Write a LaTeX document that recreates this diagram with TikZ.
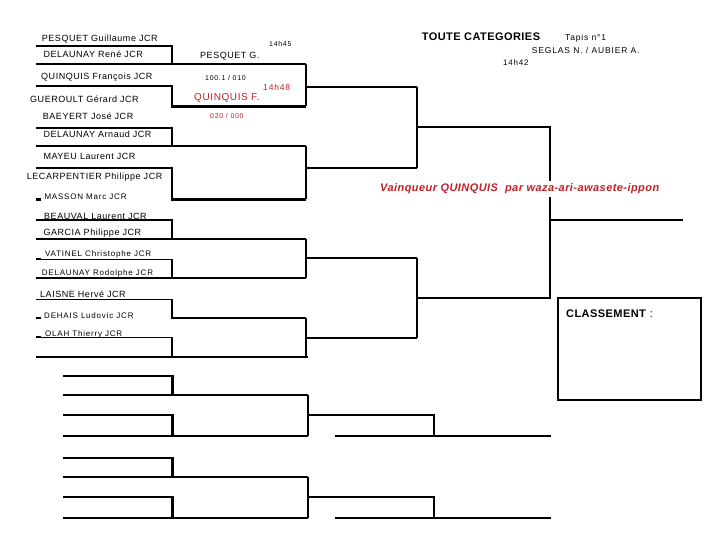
\documentclass[tikz,border=0pt]{standalone}
\usepackage{fontspec}
\setmainfont{Liberation Sans}
\newfontfamily\nmfont[LetterSpace=6]{Liberation Sans}
\newfontfamily\smfont[LetterSpace=10]{Liberation Sans}
\newfontfamily\bdfont[LetterSpace=4]{Liberation Sans}
\definecolor{redtxt}{RGB}{192,32,40}
\begin{document}
\begin{tikzpicture}[x=1pt,y=-1pt,
  thick line/.style={line width=2.8pt,line join=miter,line cap=butt},
  thin line/.style={line width=1pt},
  box line/.style={line width=1.2pt},
  nmtext/.style={anchor=base west,inner sep=0,font=\nmfont\fontsize{9}{10}\selectfont},
  smtext/.style={anchor=base west,inner sep=0,font=\smfont\fontsize{8}{9}\selectfont},
  infotext/.style={anchor=base west,inner sep=0,font=\smfont\fontsize{7}{8}\selectfont},
  rinfotext/.style={infotext,text=redtxt},
  restext/.style={anchor=base west,inner sep=0,font=\nmfont\fontsize{9}{10}\selectfont},
  rrestext/.style={restext,text=redtxt,font=\nmfont\fontsize{10}{11}\selectfont}]
\useasboundingbox (0,0) rectangle (720,540);
% ---------- names ----------
\node[nmtext] (n1) at (41.7,41.7) {PESQUET Guillaume JCR};
\node[nmtext] (n2) at (43.3,57.7) {DELAUNAY René JCR};
\node[nmtext] (n3) at (41,80) {QUINQUIS François JCR};
\node[nmtext] (n4) at (30,102.7) {GUEROULT Gérard JCR};
\node[nmtext] (n5) at (42.7,119.3) {BAEYERT José JCR};
\node[nmtext] (n6) at (43.3,137.3) {DELAUNAY Arnaud JCR};
\node[nmtext] (n7) at (43.3,159.3) {MAYEU Laurent JCR};
\node[nmtext] (n8) at (26.7,180) {LECARPENTIER Philippe JCR};
\node[smtext] (n9) at (44.3,199.3) {MASSON Marc JCR};
\node[nmtext] (n10) at (44,219.3) {BEAUVAL Laurent JCR};
\node[nmtext] (n11) at (43.3,236) {GARCIA Philippe JCR};
\node[smtext] (n12) at (45,256) {VATINEL Christophe JCR};
\node[smtext] (n13) at (41.7,275.7) {DELAUNAY Rodolphe JCR};
\node[nmtext] (n14) at (40,297.7) {LAISNE Hervé JCR};
\node[smtext] (n15) at (44,318.3) {DEHAIS Ludovic JCR};
\node[smtext] (n16) at (45,336.7) {OLAH Thierry JCR};
% ---------- results ----------
\node[infotext] (t1) at (269,46.7) {14h45};
\node[restext] (w1) at (200,58.3) {PESQUET G.};
\node[infotext] (s1) at (205,80.7) {100.1 / 010};
\node[rrestext] (w2) at (194,101) {QUINQUIS F.};
\node[rinfotext,font=\smfont\fontsize{8.5}{9}\selectfont] (t2) at (263,90.3) {14h48};
\node[rinfotext] (s2) at (210,118.3) {020 / 000};
% ---------- header ----------
\node[anchor=base west,inner sep=0,font=\bdfont\bfseries\fontsize{11}{12}\selectfont] (title) at (421.7,40.7) {TOUTE CATEGORIES};
\node[infotext,font=\smfont\fontsize{8.5}{9}\selectfont] (tapis) at (565,40.7) {Tapis n°1};
\node[infotext,font=\smfont\fontsize{8.5}{9}\selectfont] (arb) at (531.7,54) {SEGLAS N. / AUBIER A.};
\node[infotext,font=\smfont\fontsize{8}{9}\selectfont] (t3) at (503,65.7) {14h42};
% ---------- classement ----------
\draw[box line] (558,298) rectangle (701,400);
\node[anchor=base west,inner sep=0,font=\bdfont\fontsize{11}{12}\selectfont] (cl) at (566,317) {\textbf{CLASSEMENT} :};
% ---------- main bracket ----------
% quarter 1
\draw[thick line] (36,46) -- (172,46) -- (172,64);
\draw[thick line] (36,64) -- (306,64);
\draw[thick line] (36,86) -- (172,86) -- (172,106.5) -- (306,106.5);
\draw[thick line] (306,64) -- (306,106.5);
\draw[thick line] (306,87) -- (417,87);
% quarter 2
\draw[thick line] (36,128) -- (172,128) -- (172,146);
\draw[thick line] (36,146) -- (306,146);
\draw[thick line] (36,168) -- (172,168) -- (172,199.5) -- (306,199.5);
\draw[thick line] (36,199.5) -- (41,199.5);
\draw[thick line] (306,146) -- (306,199.5);
\draw[thick line] (306,168) -- (417,168);
% quarter 3
\draw[thick line] (36,220) -- (172,220) -- (172,239);
\draw[thick line] (36,239) -- (306,239);
\draw[thick line] (36,259) -- (41,259);
\draw[thin line] (41,259) -- (172,259);
\draw[thick line] (172,259) -- (172,278);
\draw[thick line] (36,278) -- (306,278);
\draw[thick line] (306,239) -- (306,278);
\draw[thick line] (306,258) -- (417,258);
% quarter 4
\draw[thin line] (36,299) -- (172,299);
\draw[thick line] (172,299) -- (172,318) -- (306,318);
\draw[thick line] (36,318) -- (41,318);
\draw[thick line] (36,337) -- (41,337);
\draw[thin line] (41,337) -- (172,337);
\draw[thick line] (172,337) -- (172,357);
\draw[thick line] (36,357) -- (308,357);
\draw[thick line] (306,318) -- (306,357);
\draw[thick line] (306,338) -- (417,338);
% semis + final
\draw[thick line] (417,87) -- (417,168);
\draw[thick line] (417,258) -- (417,338);
\draw[thick line] (417,127) -- (550,127) -- (550,298) -- (417,298);
\draw[thick line] (550,220) -- (683,220);
\node[anchor=base west,inner xsep=0,inner ysep=3pt,fill=white,text=redtxt,font=\bdfont\bfseries\itshape\fontsize{11}{12}\selectfont] (vq) at (380,191.7) {Vainqueur QUINQUIS\ \ par waza-ari-awasete-ippon};
% ---------- repechage ----------
\foreach \o in {0,82}{
  \begin{scope}[yshift=-\o pt]
  \draw[thick line] (63,376) -- (172.6,376) -- (172.6,395);
  \draw[thick line] (63,395) -- (308,395);
  \draw[thick line] (63,415) -- (172.6,415) -- (172.6,436);
  \draw[thick line] (63,436) -- (308,436);
  \draw[thick line] (308,395) -- (308,436);
  \draw[thick line] (308,415) -- (434,415) -- (434,436);
  \draw[thick line] (335,436) -- (551,436);
  \end{scope}
}
\end{tikzpicture}
\end{document}
